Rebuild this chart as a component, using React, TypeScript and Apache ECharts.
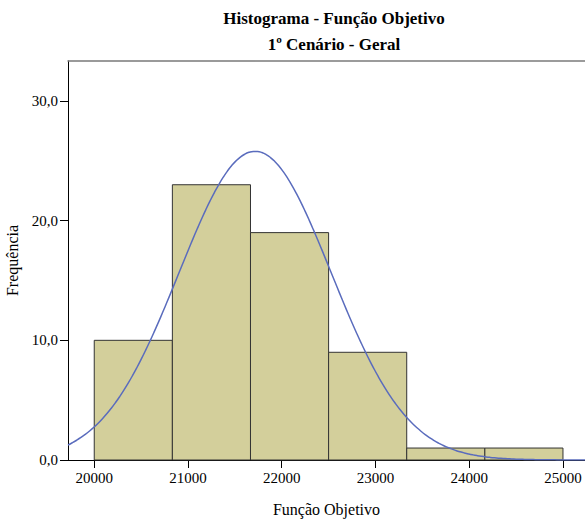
import React, { useEffect, useRef } from "react";
import * as echarts from "echarts";

// Histogram bins (lower edge, upper edge) and their frequencies
const binEdges = [20000, 20833.33, 21666.67, 22500, 23333.33, 24166.67, 25000];
const frequencies = [10, 23, 19, 9, 1, 1];

// Fitted normal curve parameters
const meanValue = 21716;
const stdDev = 812;
const sampleSize = 63;

const xTicks = [20000, 21000, 22000, 23000, 24000, 25000];
const yTicks = [0, 10, 20, 30];

const xMin = 19720;
const xMax = 25235;
const yMax = 33.34;

const FONT = "'Liberation Serif', 'Times New Roman', serif";

export default function App() {
  const ref = useRef<HTMLDivElement>(null);

  useEffect(() => {
    document.body.style.margin = "0";
    if (!ref.current) return;
    const chart = echarts.init(ref.current, null, { renderer: "svg" });

    const bars = frequencies.map((f, i) => [binEdges[i], binEdges[i + 1], f]);
    const binWidth = binEdges[1] - binEdges[0];

    const curve: number[][] = [];
    const steps = 120;
    for (let i = 0; i <= steps; i++) {
      const x = xMin + ((xMax - xMin) * i) / steps;
      const z = (x - meanValue) / stdDev;
      const y =
        (sampleSize * binWidth) / (stdDev * Math.sqrt(2 * Math.PI)) *
        Math.exp(-0.5 * z * z);
      curve.push([x, y]);
    }

    chart.setOption({
      animation: false,
      backgroundColor: "#ffffff",
      title: [
        {
          text: "Histograma - Função Objetivo",
          left: 329,
          top: 5,
          textAlign: "center",
          textStyle: { fontFamily: FONT, fontSize: 17, fontWeight: "bold", color: "#000" },
        },
        {
          text: "1º Cenário - Geral",
          left: 329,
          top: 31,
          textAlign: "center",
          textStyle: { fontFamily: FONT, fontSize: 17, fontWeight: "bold", color: "#000" },
        },
      ],
      grid: { left: 68, right: 0, top: 61, bottom: 61, containLabel: false, outerBoundsMode: "none" },
      xAxis: [
        {
          type: "value",
          min: xMin,
          max: xMax,
          name: "Função Objetivo",
          nameLocation: "middle",
          nameGap: 41,
          nameTextStyle: { fontFamily: FONT, fontSize: 16, color: "#000" },
          axisLine: { show: true, lineStyle: { color: "#000", width: 1 } },
          axisTick: { show: true, length: 8, lineStyle: { color: "#000" }, customValues: xTicks },
          axisLabel: {
            customValues: xTicks,
            fontFamily: FONT,
            fontSize: 15,
            color: "#000",
            margin: 10,
            formatter: (v: number) => String(Math.round(v)),
          },
          splitLine: { show: false },
        },
        {
          type: "value",
          position: "top",
          min: xMin,
          max: xMax,
          axisLine: { show: true, onZero: false, lineStyle: { color: "#7a7a7a", width: 1.5 } },
          axisTick: { show: false },
          axisLabel: { show: false },
          splitLine: { show: false },
        },
      ],
      yAxis: {
        type: "value",
        min: 0,
        max: yMax,
        name: "Frequência",
        nameLocation: "middle",
        nameRotate: 90,
        nameGap: 46,
        nameTextStyle: { fontFamily: FONT, fontSize: 16, color: "#000" },
        axisLine: { show: true, lineStyle: { color: "#000", width: 1 } },
        axisTick: { show: true, length: 8, lineStyle: { color: "#000" }, customValues: yTicks },
        axisLabel: {
          customValues: yTicks,
          fontFamily: FONT,
          fontSize: 15,
          color: "#000",
          margin: 10,
          formatter: (v: number) => v.toFixed(1).replace(".", ","),
        },
        splitLine: { show: false },
      },
      series: [
        {
          type: "custom",
          xAxisIndex: 0,
          data: bars,
          renderItem: (params: any, api: any) => {
            const start = api.coord([api.value(0), api.value(2)]);
            const end = api.coord([api.value(1), 0]);
            return {
              type: "rect",
              shape: {
                x: start[0],
                y: start[1],
                width: end[0] - start[0],
                height: end[1] - start[1],
              },
              style: { fill: "#d3cf9b", stroke: "#333333", lineWidth: 1 },
            };
          },
          z: 2,
        },
        {
          type: "line",
          xAxisIndex: 0,
          data: curve,
          showSymbol: false,
          smooth: true,
          lineStyle: { color: "#5a6cbd", width: 1.5 },
          z: 3,
        },
      ],
    });

    return () => chart.dispose();
  }, []);

  return <div ref={ref} style={{ width: 585, height: 521 }} />;
}
